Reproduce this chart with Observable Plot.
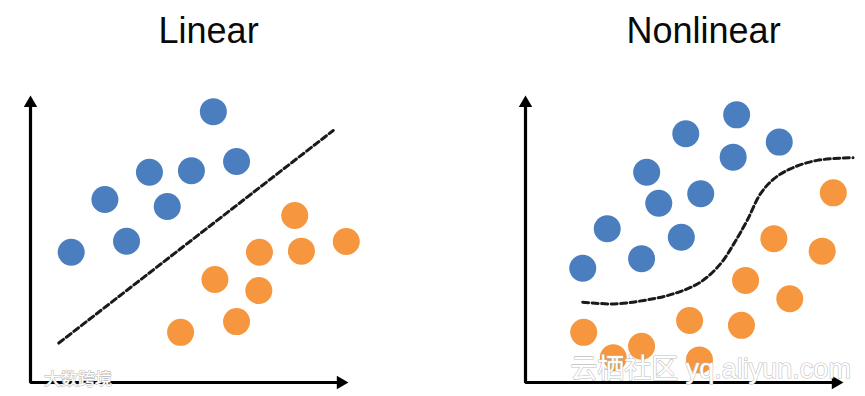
<!DOCTYPE html>
<html>
<head>
<meta charset="utf-8">
<script src="https://cdn.jsdelivr.net/npm/d3@7"></script>
<script src="https://cdn.jsdelivr.net/npm/@observablehq/plot@0.6"></script>
<style>
  html, body { margin: 0; padding: 0; background: #fff; }
  #chart { width: 865px; height: 396px; }
</style>
</head>
<body>
<div id="chart"></div>
<script>
// Panels (facets)
const panels = ["Linear", "Nonlinear"];
const titles = ["Linear", "Nonlinear"];

// Linear panel: class A (blue) and class B (orange)
const linearBlueX   = [5.75, 6.48, 3.74, 5.06, 2.34, 4.30, 3.02, 1.28];
const linearBlueY   = [9.34, 7.62, 7.25, 7.30, 6.31, 6.07, 4.87, 4.49];
const linearOrangeX = [8.31, 9.93, 7.20, 8.52, 5.80, 7.18, 6.48, 4.72];
const linearOrangeY = [5.76, 4.86, 4.49, 4.53, 3.55, 3.17, 2.10, 1.73];
// Linear decision boundary
const linearBoundaryX = [0.89, 9.52];
const linearBoundaryY = [1.36, 8.69];

// Nonlinear panel
const nonlinBlueX   = [6.64, 5.04, 7.98, 6.53, 3.81, 5.51, 4.19, 2.57, 4.90, 3.65, 1.80];
const nonlinBlueY   = [9.23, 8.58, 8.29, 7.77, 7.25, 6.51, 6.18, 5.30, 5.01, 4.27, 3.94];
const nonlinOrangeX = [9.68, 7.81, 9.33, 6.92, 8.31, 5.16, 6.79, 1.83, 3.65, 2.76, 5.47];
const nonlinOrangeY = [6.54, 4.96, 4.53, 3.52, 2.89, 2.14, 1.97, 1.73, 1.25, 0.85, 0.78];
// Nonlinear decision boundary
const nonlinBoundaryX = [1.80, 2.78, 3.72, 4.66, 5.50, 6.13, 6.55, 6.97, 7.39, 7.81, 8.33, 9.17, 10.30];
const nonlinBoundaryY = [2.77, 2.71, 2.83, 3.06, 3.46, 4.09, 4.78, 5.59, 6.51, 7.02, 7.37, 7.66, 7.75];

// Axis extent (arrow tips)
const axisXEnd = 10;
const axisYEnd = 9.9;

// Watermarks
const watermarks = [
  {panel: "Linear", text: "大数跨境", x: 1.49, y: -0.07, size: 17},
  {panel: "Nonlinear", text: "云栖社区 yq.aliyun.com", x: 5.82, y: 0.14, size: 27}
];

const BLUE = "#4a7ebf";
const ORANGE = "#f6963f";

function pts(panel, cls, xs, ys) { return xs.map((x, i) => ({panel, cls, x, y: ys[i]})); }
const points = [
  ...pts("Linear", "A", linearBlueX, linearBlueY),
  ...pts("Linear", "B", linearOrangeX, linearOrangeY),
  ...pts("Nonlinear", "A", nonlinBlueX, nonlinBlueY),
  ...pts("Nonlinear", "B", nonlinOrangeX, nonlinOrangeY)
];
const linBoundary = linearBoundaryX.map((x, i) => ({panel: "Linear", x, y: linearBoundaryY[i]}));
const nonBoundary = nonlinBoundaryX.map((x, i) => ({panel: "Nonlinear", x, y: nonlinBoundaryY[i]}));
const titleData = panels.map((p, i) => ({panel: p, text: titles[i], x: 5.6, y: 11.72}));

// axis polyline (stops just before the arrow heads)
const axisPath = [{x: 0, y: axisYEnd - 0.32}, {x: 0, y: 0}, {x: axisXEnd - 0.3, y: 0}];

const chart = Plot.plot({
  width: 865,
  height: 396,
  marginLeft: 30,
  marginRight: 22,
  marginTop: 92,
  marginBottom: 14,
  style: {fontFamily: "Liberation Sans, Arial, sans-serif", background: "#fff"},
  x: {domain: [0, 10], axis: null},
  y: {domain: [0, 10], axis: null},
  fx: {domain: panels, paddingInner: 0.3576, paddingOuter: 0, round: false, axis: null},
  color: {domain: ["A", "B"], range: [BLUE, ORANGE]},
  marks: [
    Plot.line(axisPath, {x: "x", y: "y", stroke: "#000", strokeWidth: 3.2, strokeLinejoin: "miter"}),
    Plot.dot([{x: axisXEnd, y: 0}], {x: "x", y: "y", symbol: "triangle", r: 5, fill: "#000", rotate: 90, dx: -7.8}),
    Plot.dot([{x: 0, y: axisYEnd}], {x: "x", y: "y", symbol: "triangle", r: 5, fill: "#000", dy: 7.8}),
    Plot.dot(points, {x: "x", y: "y", fx: "panel", fill: "cls", r: 13.5}),
    Plot.line(linBoundary, {x: "x", y: "y", fx: "panel", stroke: "#1a1a1a", strokeWidth: 3, strokeDasharray: "6,3.5"}),
    Plot.line(nonBoundary, {x: "x", y: "y", fx: "panel", stroke: "#1a1a1a", strokeWidth: 3, strokeDasharray: "6,3.5", curve: "catmull-rom"}),
    Plot.text(titleData, {x: "x", y: "y", fx: "panel", text: "text", fontSize: 36, fill: "#0a0a0a", lineAnchor: "bottom"}),
    Plot.text(watermarks, {x: "x", y: "y", fx: "panel", text: "text", fontSize: "size", lineAnchor: "bottom",
      fill: "#fff", stroke: "#c0c0c0", strokeWidth: 1.2, paintOrder: "stroke",
      fontFamily: "Liberation Sans, Noto Sans CJK SC, sans-serif"})
  ]
});
document.getElementById("chart").appendChild(chart);
</script>
</body>
</html>
